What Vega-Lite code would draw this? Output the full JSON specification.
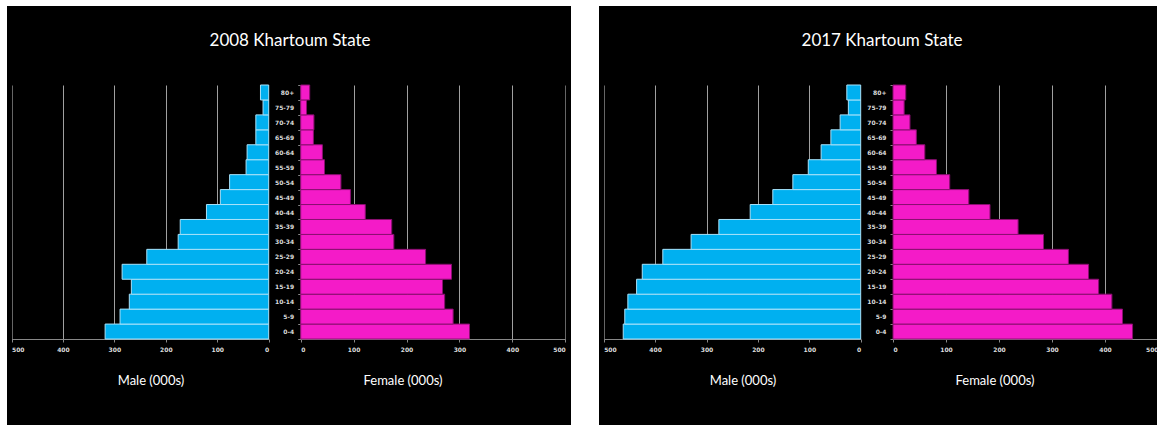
{
  "$schema": "https://vega.github.io/schema/vega-lite/v6.json",
  "background": "white",
  "padding": {"left": 7, "top": 3, "right": 0, "bottom": 2},
  "spacing": 28,
  "bounds": "flush",
  "datasets": {
    "d2008": [
      {"age": "0-4", "male": 318, "female": 319},
      {"age": "5-9", "male": 289, "female": 288},
      {"age": "10-14", "male": 271, "female": 272},
      {"age": "15-19", "male": 267, "female": 268},
      {"age": "20-24", "male": 285, "female": 285},
      {"age": "25-29", "male": 237, "female": 236},
      {"age": "30-34", "male": 176, "female": 176},
      {"age": "35-39", "male": 172, "female": 172},
      {"age": "40-44", "male": 121, "female": 122},
      {"age": "45-49", "male": 94, "female": 94},
      {"age": "50-54", "male": 76, "female": 76},
      {"age": "55-59", "male": 44, "female": 45},
      {"age": "60-64", "male": 42, "female": 41},
      {"age": "65-69", "male": 25, "female": 24},
      {"age": "70-74", "male": 25, "female": 25},
      {"age": "75-79", "male": 11, "female": 11},
      {"age": "80+", "male": 16, "female": 17}
    ],
    "d2017": [
      {"age": "0-4", "male": 462, "female": 452},
      {"age": "5-9", "male": 459, "female": 433},
      {"age": "10-14", "male": 453, "female": 413},
      {"age": "15-19", "male": 436, "female": 388},
      {"age": "20-24", "male": 425, "female": 369},
      {"age": "25-29", "male": 385, "female": 331},
      {"age": "30-34", "male": 330, "female": 284},
      {"age": "35-39", "male": 276, "female": 236},
      {"age": "40-44", "male": 215, "female": 183},
      {"age": "45-49", "male": 171, "female": 143},
      {"age": "50-54", "male": 132, "female": 107},
      {"age": "55-59", "male": 102, "female": 82},
      {"age": "60-64", "male": 77, "female": 60},
      {"age": "65-69", "male": 58, "female": 44},
      {"age": "70-74", "male": 40, "female": 32},
      {"age": "75-79", "male": 24, "female": 21},
      {"age": "80+", "male": 27, "female": 24}
    ]
  },
  "hconcat": [
    {
      "width": 564,
      "height": 419,
      "data": {"name": "d2008"},
      "title": {"text": "2008 Khartoum State", "offset": -54.5, "baseline": "middle", "dx": 1},
      "resolve": {"scale": {"x": "independent"}, "axis": {"x": "independent"}},
      "layer": [
        {
          "mark": {"type": "bar", "opacity": 0},
          "encoding": {
            "y": {"field": "age", "type": "nominal",
              "scale": {"domain": ["80+","75-79","70-74","65-69","60-64","55-59","50-54","45-49","40-44","35-39","30-34","25-29","20-24","15-19","10-14","5-9","0-4"], "range": [79, 333], "paddingInner": 0, "paddingOuter": 0},
              "axis": {"orient": "left", "offset": -293.7, "title": null, "grid": false, "tickBand": "extent", "domainColor": "#888", "tickColor": "#888", "tickSize": 3, "labelPadding": 4}},
            "x": {"field": "male", "type": "quantitative",
              "scale": {"domain": [0, 500], "range": [261.7, 4.5], "nice": false},
              "axis": {"orient": "top", "grid": true, "labels": false, "ticks": false, "domain": false, "title": null, "values": [100,200,300,400,500]}}
          }
        },
        {
          "mark": {"type": "bar", "opacity": 0},
          "encoding": {
            "y": {"field": "age", "type": "nominal",
              "scale": {"domain": ["80+","75-79","70-74","65-69","60-64","55-59","50-54","45-49","40-44","35-39","30-34","25-29","20-24","15-19","10-14","5-9","0-4"], "range": [79, 333], "paddingInner": 0, "paddingOuter": 0},
              "axis": {"orient": "left", "offset": -293.7, "title": null, "grid": false, "tickBand": "extent", "domainColor": "#888", "tickColor": "#888", "tickSize": 3, "labelPadding": 4}},
            "x": {"field": "female", "type": "quantitative",
              "scale": {"domain": [0, 500], "range": [293.7, 558.3], "nice": false},
              "axis": {"orient": "top", "grid": true, "labels": false, "ticks": false, "domain": false, "title": null, "values": [100,200,300,400,500]}}
          }
        },
        {
          "mark": {"type": "bar", "fill": "#00b0f0", "stroke": "#a8e2fa", "strokeWidth": 1},
          "encoding": {
            "y": {"field": "age", "type": "nominal",
              "scale": {"domain": ["80+","75-79","70-74","65-69","60-64","55-59","50-54","45-49","40-44","35-39","30-34","25-29","20-24","15-19","10-14","5-9","0-4"], "range": [79, 333], "paddingInner": 0, "paddingOuter": 0},
              "axis": {"orient": "left", "offset": -293.7, "title": null, "grid": false, "tickBand": "extent", "domainColor": "#888", "tickColor": "#888", "tickSize": 3, "labelPadding": 4}},
            "x": {"field": "male", "type": "quantitative",
              "scale": {"domain": [0, 500], "range": [261.7, 4.5], "nice": false},
              "axis": {"orient": "bottom", "grid": false, "offset": -86, "values": [0,100,200,300,400,500], "title": "Male (000s)", "titleX": 143.5, "titleY": 41}}
          }
        },
        {
          "mark": {"type": "bar", "fill": "#f41bc8", "stroke": "#8a0f70", "strokeWidth": 1},
          "encoding": {
            "y": {"field": "age", "type": "nominal",
              "scale": {"domain": ["80+","75-79","70-74","65-69","60-64","55-59","50-54","45-49","40-44","35-39","30-34","25-29","20-24","15-19","10-14","5-9","0-4"], "range": [79, 333], "paddingInner": 0, "paddingOuter": 0},
              "axis": {"orient": "left", "offset": -293.7, "title": null, "grid": false, "tickBand": "extent", "domainColor": "#888", "tickColor": "#888", "tickSize": 3, "labelPadding": 4}},
            "x": {"field": "female", "type": "quantitative",
              "scale": {"domain": [0, 500], "range": [293.7, 558.3], "nice": false},
              "axis": {"orient": "bottom", "grid": false, "offset": -86, "values": [0,100,200,300,400,500], "title": "Female (000s)", "titleX": 395.5, "titleY": 41}}
          }
        }
      ]
    },
    {
      "width": 558,
      "height": 419,
      "data": {"name": "d2017"},
      "title": {"text": "2017 Khartoum State", "offset": -54.5, "baseline": "middle", "dx": 4},
      "resolve": {"scale": {"x": "independent"}, "axis": {"x": "independent"}},
      "layer": [
        {
          "mark": {"type": "bar", "opacity": 0},
          "encoding": {
            "y": {"field": "age", "type": "nominal",
              "scale": {"domain": ["80+","75-79","70-74","65-69","60-64","55-59","50-54","45-49","40-44","35-39","30-34","25-29","20-24","15-19","10-14","5-9","0-4"], "range": [79, 333], "paddingInner": 0, "paddingOuter": 0},
              "axis": {"orient": "left", "offset": -294, "title": null, "grid": false, "tickBand": "extent", "domainColor": "#888", "tickColor": "#888", "tickSize": 3, "labelPadding": 4}},
            "x": {"field": "male", "type": "quantitative",
              "scale": {"domain": [0, 500], "range": [261.7, 4.7], "nice": false},
              "axis": {"orient": "top", "grid": true, "labels": false, "ticks": false, "domain": false, "title": null, "values": [100,200,300,400,500]}}
          }
        },
        {
          "mark": {"type": "bar", "opacity": 0},
          "encoding": {
            "y": {"field": "age", "type": "nominal",
              "scale": {"domain": ["80+","75-79","70-74","65-69","60-64","55-59","50-54","45-49","40-44","35-39","30-34","25-29","20-24","15-19","10-14","5-9","0-4"], "range": [79, 333], "paddingInner": 0, "paddingOuter": 0},
              "axis": {"orient": "left", "offset": -294, "title": null, "grid": false, "tickBand": "extent", "domainColor": "#888", "tickColor": "#888", "tickSize": 3, "labelPadding": 4}},
            "x": {"field": "female", "type": "quantitative",
              "scale": {"domain": [0, 500], "range": [294, 559], "nice": false},
              "axis": {"orient": "top", "grid": true, "labels": false, "ticks": false, "domain": false, "title": null, "values": [100,200,300,400,500]}}
          }
        },
        {
          "mark": {"type": "bar", "fill": "#00b0f0", "stroke": "#a8e2fa", "strokeWidth": 1},
          "encoding": {
            "y": {"field": "age", "type": "nominal",
              "scale": {"domain": ["80+","75-79","70-74","65-69","60-64","55-59","50-54","45-49","40-44","35-39","30-34","25-29","20-24","15-19","10-14","5-9","0-4"], "range": [79, 333], "paddingInner": 0, "paddingOuter": 0},
              "axis": {"orient": "left", "offset": -294, "title": null, "grid": false, "tickBand": "extent", "domainColor": "#888", "tickColor": "#888", "tickSize": 3, "labelPadding": 4}},
            "x": {"field": "male", "type": "quantitative",
              "scale": {"domain": [0, 500], "range": [261.7, 4.7], "nice": false},
              "axis": {"orient": "bottom", "grid": false, "offset": -86, "values": [0,100,200,300,400,500], "title": "Male (000s)", "titleX": 143.5, "titleY": 41}}
          }
        },
        {
          "mark": {"type": "bar", "fill": "#f41bc8", "stroke": "#8a0f70", "strokeWidth": 1},
          "encoding": {
            "y": {"field": "age", "type": "nominal",
              "scale": {"domain": ["80+","75-79","70-74","65-69","60-64","55-59","50-54","45-49","40-44","35-39","30-34","25-29","20-24","15-19","10-14","5-9","0-4"], "range": [79, 333], "paddingInner": 0, "paddingOuter": 0},
              "axis": {"orient": "left", "offset": -294, "title": null, "grid": false, "tickBand": "extent", "domainColor": "#888", "tickColor": "#888", "tickSize": 3, "labelPadding": 4}},
            "x": {"field": "female", "type": "quantitative",
              "scale": {"domain": [0, 500], "range": [294, 559], "nice": false},
              "axis": {"orient": "bottom", "grid": false, "offset": -86, "values": [0,100,200,300,400,500], "title": "Female (000s)", "titleX": 395.5, "titleY": 41}}
          }
        }
      ]
    }
  ],
  "config": {
    "view": {"stroke": null, "fill": "black"},
    "title": {"font": "Lato", "fontSize": 17, "fontWeight": "normal", "color": "white", "anchor": "middle"},
    "axis": {
      "labelFont": "DejaVu Sans", "labelFontWeight": "bold", "labelFontSize": 6, "labelColor": "#dddddd",
      "titleFont": "Lato", "titleFontSize": 13, "titleFontWeight": "normal", "titleColor": "white", "titleBaseline": "middle", "titleAnchor": "middle",
      "domainColor": "#888888", "tickColor": "#888888", "tickSize": 3, "labelPadding": 4,
      "gridColor": {"condition": {"test": "datum.value === 500", "value": "#666666"}, "value": "#a0a0a0"},
      "gridOpacity": 1, "gridWidth": 1
    }
  }
}
